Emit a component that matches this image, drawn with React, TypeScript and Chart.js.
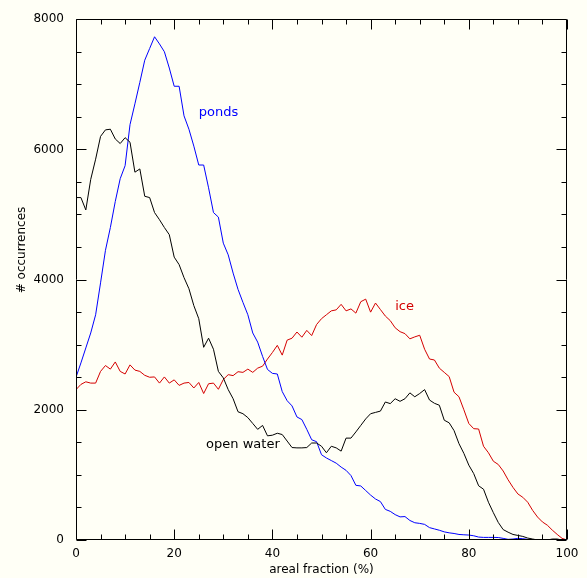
import React, { useEffect, useRef } from "react";
import { Chart, registerables } from "chart.js";

Chart.register(...registerables);

const fractions = [
  0, 1, 2, 3, 4, 5, 6, 7, 8, 9, 10, 11, 12, 13, 14, 15, 16, 17, 18, 19, 20,
  21, 22, 23, 24, 25, 26, 27, 28, 29, 30, 31, 32, 33, 34, 35, 36, 37, 38, 39, 40,
  41, 42, 43, 44, 45, 46, 47, 48, 49, 50, 51, 52, 53, 54, 55, 56, 57, 58, 59, 60,
  61, 62, 63, 64, 65, 66, 67, 68, 69, 70, 71, 72, 73, 74, 75, 76, 77, 78, 79, 80,
  81, 82, 83, 84, 85, 86, 87, 88, 89, 90, 91, 92, 93, 94, 95, 96, 97, 98, 99, 100,
];

const ponds = [
  2500, 2720, 2950, 3180, 3460, 3950, 4450, 4800, 5200, 5550, 5750,
  6380, 6700, 7030, 7370, 7550, 7730, 7620, 7500, 7250, 6970,
  6970, 6515, 6310, 6050, 5760, 5760, 5410, 5030, 4960, 4560,
  4380, 4100, 3850, 3650, 3460, 3180, 3040, 2820, 2620, 2560,
  2550, 2280, 2140, 2060, 1890, 1850, 1700, 1540, 1510, 1310,
  1260, 1220, 1180, 1120, 1070, 990, 840, 830, 760, 690,
  630, 590, 470, 440, 390, 355, 360, 300, 265, 255,
  240, 190, 170, 150, 125, 110, 100, 85, 80, 76,
  65, 45, 40, 40, 40, 38, 25, 10, 15, 25,
  20, 10, 5, 0, 0, 0, 0, 0, 0, 0,
];

const openWater = [
  5260, 5260, 5070, 5540, 5850, 6200, 6300, 6310, 6160, 6090, 6180,
  6110, 5650, 5700, 5280, 5260, 5030, 4920, 4800, 4690, 4345,
  4230, 4030, 3860, 3600, 3400, 2960, 3100, 2930, 2590, 2490,
  2310, 2170, 1970, 1940, 1880, 1790, 1700, 1760, 1600, 1610,
  1640, 1620, 1520, 1420, 1415, 1415, 1420, 1490, 1490, 1440,
  1340, 1440, 1415, 1365, 1565, 1565, 1660, 1760, 1860, 1940,
  1960, 1980, 2120, 2095, 2170, 2130, 2170, 2260, 2200, 2250,
  2310, 2150, 2100, 2070, 1840, 1800, 1680, 1480, 1330, 1150,
  1020, 833, 780, 580, 420, 270, 160, 120, 85, 70,
  55, 30, 15, 0, 0, 0, 15, 15, 0, 0,
];

const ice = [
  2310, 2390, 2430, 2410, 2410, 2590, 2680, 2625, 2735, 2590, 2550,
  2690, 2610, 2590, 2530, 2500, 2505, 2410, 2505, 2410, 2460,
  2375, 2410, 2420, 2335, 2420, 2250, 2400, 2410, 2315, 2465,
  2540, 2525, 2585, 2575, 2625, 2575, 2640, 2670, 2780, 2880,
  2990, 2840, 3070, 3100, 3195, 3115, 3220, 3140, 3310, 3400,
  3460, 3520, 3535, 3620, 3520, 3550, 3485, 3660, 3700, 3500,
  3640, 3540, 3440, 3370, 3260, 3200, 3170, 3090, 3120, 3145,
  2930, 2780, 2765, 2640, 2575, 2510, 2270, 2200, 2000, 1790,
  1710, 1705, 1440, 1340, 1210, 1160, 1060, 925, 808, 707,
  656, 580, 455, 353, 277, 227, 152, 86, 25, 0,
];

const xTicks = [0, 20, 40, 60, 80, 100];
const yTicks = [0, 2000, 4000, 6000, 8000];
const seriesNames = ["open water", "ponds", "ice"];
const xTitle = "areal fraction (%)";
const yTitle = "# occurrences";

const FONT = "DejaVu Sans";

const frame = {
  id: "idlFrame",
  afterDraw(chart: any) {
    const { ctx, chartArea, scales } = chart;
    const { left, right, top, bottom } = chartArea;
    const xs = scales.x;
    const ys = scales.y;
    ctx.save();
    ctx.strokeStyle = "#000";
    ctx.lineWidth = 1;
    const L = Math.round(left) + 0.5;
    const R = Math.round(right) - 0.5;
    const T = Math.round(top) + 0.5;
    const B = Math.round(bottom) - 0.5;
    ctx.beginPath();
    ctx.rect(L, T, R - L, B - T);
    ctx.stroke();
    ctx.beginPath();
    for (let v = 0; v <= 100; v += 5) {
      const px = Math.round(xs.getPixelForValue(v)) + 0.5;
      const len = v % 20 === 0 ? 10 : 5;
      ctx.moveTo(px, B);
      ctx.lineTo(px, B - len);
      ctx.moveTo(px, T);
      ctx.lineTo(px, T + len);
    }
    for (let v = 0; v <= 8000; v += 500) {
      const py = Math.round(ys.getPixelForValue(v)) + 0.5;
      const len = v % 2000 === 0 ? 10 : 5;
      ctx.moveTo(L, py);
      ctx.lineTo(L + len, py);
      ctx.moveTo(R, py);
      ctx.lineTo(R - len, py);
    }
    ctx.stroke();

    ctx.font = `12px "${FONT}"`;
    ctx.fillStyle = "#000";
    ctx.textAlign = "center";
    ctx.textBaseline = "middle";
    ctx.fillText(xTitle, (left + right) / 2, 570);
    ctx.save();
    ctx.translate(22, 250);
    ctx.rotate(-Math.PI / 2);
    ctx.fillText(yTitle, 0, 0);
    ctx.restore();

    ctx.textAlign = "left";
    ctx.font = `13px "${FONT}"`;
    ctx.fillStyle = "#0000ff";
    ctx.fillText(seriesNames[1], xs.getPixelForValue(25), ys.getPixelForValue(6560));
    ctx.fillStyle = "#d40000";
    ctx.fillText(seriesNames[2], xs.getPixelForValue(65), ys.getPixelForValue(3580));
    ctx.fillStyle = "#000";
    ctx.fillText(seriesNames[0], xs.getPixelForValue(26.5), ys.getPixelForValue(1460));
    ctx.restore();
  },
};

export default function App() {
  const ref = useRef<HTMLCanvasElement | null>(null);
  useEffect(() => {
    if (!ref.current) return;
    const mk = (arr: number[]) => fractions.map((f, i) => ({ x: f, y: arr[i] }));
    const chart = new Chart(ref.current, {
      type: "line",
      data: {
        datasets: [
          { label: seriesNames[0], data: mk(openWater), borderColor: "#000000", borderWidth: 1, pointRadius: 0, tension: 0 },
          { label: seriesNames[1], data: mk(ponds), borderColor: "#0000ff", borderWidth: 1, pointRadius: 0, tension: 0 },
          { label: seriesNames[2], data: mk(ice), borderColor: "#d40000", borderWidth: 1, pointRadius: 0, tension: 0 },
        ],
      },
      options: {
        animation: false,
        responsive: false,
        maintainAspectRatio: false,
        layout: { padding: { top: 12, right: 20, left: 0, bottom: 0 } },
        plugins: { legend: { display: false }, tooltip: { enabled: false } },
        scales: {
          x: {
            type: "linear",
            min: 0,
            max: 100,
            grid: { display: false, drawTicks: false },
            border: { display: false },
            afterBuildTicks: (s: any) => { s.ticks = xTicks.map((v) => ({ value: v })); },
            afterFit: (s: any) => { s.height = 38; },
            ticks: { color: "#000", font: { family: FONT, size: 12 }, padding: 7, maxRotation: 0 },
          },
          y: {
            type: "linear",
            min: 0,
            max: 8000,
            grid: { display: false, drawTicks: false },
            border: { display: false },
            afterBuildTicks: (s: any) => { s.ticks = yTicks.map((v) => ({ value: v })); },
            afterFit: (s: any) => { s.width = 76; },
            ticks: { color: "#000", font: { family: FONT, size: 12 }, padding: 12, callback: (v: any) => String(v) },
          },
        },
      },
      plugins: [frame],
    });
    return () => chart.destroy();
  }, []);
  return (
    <div style={{ position: "fixed", left: 0, top: 0, width: 587, height: 578, background: "#fffff6" }}>
      <canvas ref={ref} width={587} height={578} style={{ display: "block", width: 587, height: 578 }} />
    </div>
  );
}
